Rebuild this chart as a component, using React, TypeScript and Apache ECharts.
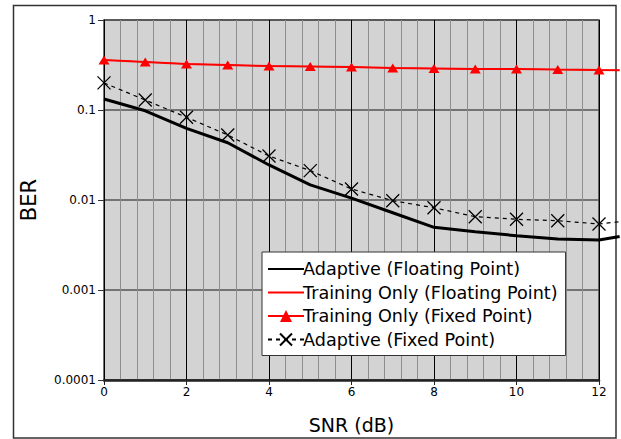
import React, { useEffect, useRef } from "react";
import * as echarts from "echarts";

const snr = [0, 1, 2, 3, 4, 5, 6, 7, 8, 9, 10, 11, 12, 12.5];
const adaptiveFloat = [0.1326, 0.098, 0.0626, 0.0433, 0.0245, 0.0147, 0.0105, 0.00722, 0.00497, 0.00444, 0.00401, 0.00369, 0.00359, 0.00392];
const trainingFloat = [0.359, 0.342, 0.325, 0.316, 0.308, 0.304, 0.3, 0.293, 0.289, 0.285, 0.285, 0.281, 0.278, 0.277];
const trainingFixed = [0.359, 0.342, 0.325, 0.316, 0.308, 0.304, 0.3, 0.293, 0.289, 0.285, 0.285, 0.281, 0.278, 0.277];
const adaptiveFixed = [0.2, 0.129, 0.083, 0.0527, 0.0308, 0.0212, 0.01325, 0.00982, 0.0082, 0.00652, 0.0061, 0.00589, 0.00541, 0.00574];
const yTickLabels: Record<string, string> = {
  "1": "1",
  "0.1": "0.1",
  "0.01": "0.01",
  "0.001": "0.001",
  "0.0001": "0.0001",
};
const seriesNames = [
  "Adaptive (Floating Point)",
  "Training Only (Floating Point)",
  "Training Only (Fixed Point)",
  "Adaptive (Fixed Point)",
];

// points up to SNR 12 carry markers; the trailing point only continues the line
const pairs = (ys: number[]) =>
  snr.map((x, i) => (x > 12 ? { value: [x, ys[i]], symbol: "none" } : [x, ys[i]]));

export default function App() {
  const ref = useRef<HTMLDivElement>(null);
  useEffect(() => {
    if (!ref.current) return;
    const chart = echarts.init(ref.current, null, { renderer: "svg" });
    const font = "DejaVu Sans";
    const unit = 495 / 12;
    const xLast = snr[snr.length - 1];
    const hiddenItem = { itemStyle: { opacity: 0, color: "transparent", borderWidth: 0 } };
    chart.setOption({
      animation: false,
      textStyle: { fontFamily: font },
      graphic: [
        {
          type: "rect",
          z: -10,
          shape: { x: 13.5, y: 5.5, width: 602.5, height: 432.5 },
          style: { fill: "#fff", stroke: "#333", lineWidth: 1.5 },
        },
      ],
      grid: [
        {
          left: 104,
          top: 20,
          width: 495,
          height: 360,
          show: true,
          backgroundColor: "#d3d3d3",
          borderColor: "#444",
          borderWidth: 1.5,
          z: 0,
        },
        {
          left: 104,
          top: 20,
          width: unit * xLast,
          height: 360,
          show: false,
        },
      ],
      legend: {
        orient: "vertical",
        left: 262,
        top: 252,
        backgroundColor: "#fff",
        borderColor: "#333",
        borderWidth: 1,
        borderRadius: 0,
        padding: [8, 8, 7, 5],
        itemWidth: 36,
        itemHeight: 15,
        itemGap: 5.5,
        textStyle: { fontFamily: font, fontSize: 17.6, color: "#000", padding: [0, 0, 0, -6] },
        data: [
          { name: seriesNames[0], ...hiddenItem },
          { name: seriesNames[1], ...hiddenItem },
          { name: seriesNames[2] },
          { name: seriesNames[3] },
        ],
      },
      xAxis: [
        {
          type: "value",
          gridIndex: 0,
          min: 0,
          max: 12,
          interval: 2,
          name: "SNR (dB)",
          nameLocation: "middle",
          nameGap: 35,
          nameTextStyle: { fontFamily: font, fontSize: 19, color: "#000" },
          axisLine: { onZero: false, lineStyle: { color: "#222", width: 2.5 } },
          axisTick: { show: true, length: 5, lineStyle: { color: "#222", width: 1 } },
          axisLabel: { fontFamily: font, fontSize: 12, color: "#000", margin: 6 },
          splitLine: { show: true, lineStyle: { color: "#000", width: 1 } },
          minorTick: { show: false, splitNumber: 5 },
          minorSplitLine: { show: true, lineStyle: { color: "#8e8e8e", width: 1 } },
        },
        {
          type: "value",
          gridIndex: 1,
          min: 0,
          max: xLast,
          show: false,
        },
      ],
      yAxis: [
        {
          type: "log",
          gridIndex: 0,
          logBase: 10,
          min: 0.0001,
          max: 1,
          name: "BER",
          nameLocation: "middle",
          nameGap: 65,
          nameRotate: 90,
          nameTextStyle: { fontFamily: font, fontSize: 21, color: "#000" },
          axisLine: { show: true, lineStyle: { color: "#000", width: 1 } },
          axisTick: { show: true, length: 6, lineStyle: { color: "#333", width: 1 } },
          axisLabel: {
            fontFamily: font,
            fontSize: 12,
            color: "#000",
            margin: 8,
            formatter: (v: number) => {
              const k = String(Number(v.toPrecision(6)));
              return yTickLabels[k] ?? k;
            },
          },
          splitLine: { show: true, lineStyle: { color: "#555", width: 1.5 } },
        },
        {
          type: "log",
          gridIndex: 1,
          logBase: 10,
          min: 0.0001,
          max: 1,
          show: false,
        },
      ],
      series: [
        {
          name: seriesNames[0],
          type: "line",
          xAxisIndex: 1,
          yAxisIndex: 1,
          data: pairs(adaptiveFloat),
          symbol: "none",
          clip: false,
          lineStyle: { color: "#000", width: 3 },
          itemStyle: { color: "#000" },
          z: 3,
        },
        {
          name: seriesNames[1],
          type: "line",
          xAxisIndex: 1,
          yAxisIndex: 1,
          data: pairs(trainingFloat),
          symbol: "none",
          clip: false,
          lineStyle: { color: "#ff0000", width: 1 },
          itemStyle: { color: "#ff0000" },
          z: 3,
        },
        {
          name: seriesNames[2],
          type: "line",
          xAxisIndex: 1,
          yAxisIndex: 1,
          data: pairs(trainingFixed),
          symbol: "triangle",
          symbolSize: [11, 9],
          clip: false,
          lineStyle: { color: "#ff0000", width: 2 },
          itemStyle: { color: "#ff0000" },
          z: 4,
        },
        {
          name: seriesNames[3],
          type: "line",
          xAxisIndex: 1,
          yAxisIndex: 1,
          data: pairs(adaptiveFixed),
          symbol: "path://M0,0L10,10M10,0L0,10",
          symbolSize: 13,
          clip: false,
          lineStyle: { color: "#000", width: 1.2, type: [4, 4] },
          itemStyle: { color: "none", borderColor: "#000", borderWidth: 1.3 },
          z: 4,
        },
      ],
    });
    return () => chart.dispose();
  }, []);
  return (
    <div
      ref={ref}
      style={{ position: "fixed", left: 0, top: 0, width: 621, height: 439, background: "#fff" }}
    />
  );
}
